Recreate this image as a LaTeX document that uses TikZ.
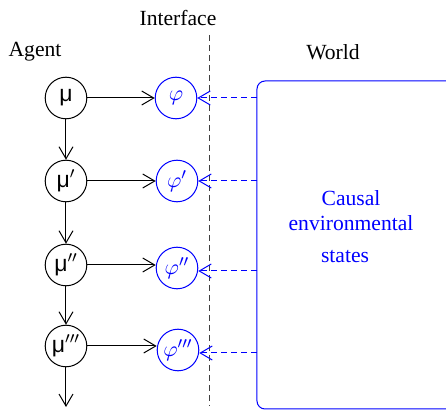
\documentclass[tikz,border=0pt]{standalone}
\usepackage{amsmath,amssymb}
\usepackage{fontspec}
\setmainfont{Liberation Serif}
\newfontfamily\musans{Liberation Sans}
\usepackage{xcolor}
\usetikzlibrary{arrows.meta}

\newcommand{\agmu}{{\musans μ}}

\begin{document}
\begin{tikzpicture}[x=0.5pt,y=-0.5pt,line width=0.5pt,
    font=\fontsize{10.8}{13}\selectfont,
    >={Straight Barb[length=6pt,width=7pt]},
    agentnode/.style={draw, circle, minimum size=20.8pt, inner sep=0pt, font=\fontsize{11.5}{13}\selectfont},
    ifacenode/.style={draw=blue, circle, minimum size=20.8pt, inner sep=0pt, text=blue},
    senseline/.style={->, blue, dashed, dash pattern=on 3pt off 2pt}]
        \clip (0,0) rectangle (446,412);
        % labels
        \node (agent) at (35,52) {Agent};
        \node (iface) at (178,18) {Interface};
        \node (world) at (333,52) {World};
        % interface line
        \coordinate (itop) at (210,35);
        \coordinate (ibot) at (210,406);
        \draw[black!75, dash pattern=on 3pt off 2pt] (itop) -- (ibot);
        % agent states
        \node[agentnode] (m0) at (66,98) {\agmu};
        \node[agentnode] (m1) at (66,181) {\agmu$'$};
        \node[agentnode] (m2) at (66,265) {\agmu$''$};
        \node[agentnode] (m3) at (66,346) {\agmu$'''$};
        \coordinate (mend) at (66,407);
        \draw[->] (m0) -- (m1);
        \draw[->] (m1) -- (m2);
        \draw[->] (m2) -- (m3);
        \draw[->] (m3) -- (mend);
        % interface states
        \node[ifacenode] (p0) at (176,98) {$\varphi$};
        \node[ifacenode] (p1) at (177,181) {$\varphi'$};
        \node[ifacenode] (p2) at (177,268) {$\varphi''$};
        \node[ifacenode] (p3) at (178,350) {$\varphi'''$};
        \draw[->] (m0) -- (p0);
        \draw[->] (m1) -- (p1);
        \draw[->] (m2) -- (p2.west |- m2);
        \draw[->] (m3) -- (p3.west |- m3);
        % world
        \draw[blue, rounded corners=4pt] (257,81) rectangle (470,409);
        \coordinate (w0) at (257,98);
        \coordinate (w1) at (257,181);
        \coordinate (w2) at (257,271);
        \coordinate (w3) at (257,353);
        \draw[senseline] (w0) -- (p0.east |- w0);
        \draw[senseline] (w1) -- (p1.east |- w1);
        \draw[senseline] (w2) -- (p2.east |- w2);
        \draw[senseline] (w3) -- (p3.east |- w3);
        \node[text=blue] (causal) at (351,198) {Causal};
        \node[text=blue] (environ) at (351,223) {environmental};
        \node[text=blue] (states) at (345,257) {states};
    \end{tikzpicture}
\end{document}
